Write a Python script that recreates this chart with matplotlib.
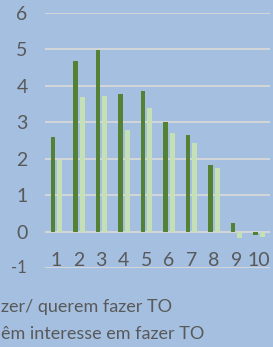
import matplotlib
matplotlib.use("Agg")
import matplotlib.pyplot as plt
import numpy as np

categories = ["1", "2", "3", "4", "5", "6", "7", "8", "9", "10"]
series_dark = [2.60, 4.68, 4.98, 3.77, 3.86, 3.00, 2.64, 1.84, 0.24, -0.10]
series_light = [1.96, 3.69, 3.73, 2.79, 3.39, 2.70, 2.43, 1.75, -0.18, -0.15]
legend_labels = ["zer/ querem fazer TO", "êm interesse em fazer TO"]
y_ticks = [0, 1, 2, 3, 4, 5, 6]

BG = "#a4bfe0"
DARK = "#548235"
LIGHT = "#c5e0b4"
GRID = "#d9d9d9"
TXT = "#595959"
FONT = ["Lato", "DejaVu Sans"]

W, H = 273, 347
fig = plt.figure(figsize=(W / 100, H / 100), dpi=100, facecolor=BG)
ax = fig.add_axes([45 / W, (H - 268) / H, 225 / W, 255 / H])
ax.set_facecolor(BG)

x = np.arange(len(categories))
bw = 0.22
ax.bar(x - 0.145, series_dark, width=bw, color=DARK, zorder=3)
ax.bar(x + 0.155, series_light, width=bw, color=LIGHT, zorder=3)

ax.set_xlim(-0.5, len(categories) - 0.5)
ax.set_ylim(-1, 6)
for v in [-1] + y_ticks:
    ax.axhline(v, color=GRID, lw=1.3, zorder=1)

for s in ax.spines.values():
    s.set_visible(False)
ax.set_xticks([])
ax.set_yticks(y_ticks)
ax.set_yticklabels([str(v) for v in y_ticks], fontsize=14, color=TXT, family=FONT)
ax.tick_params(axis="y", length=0, pad=12.5)
ax.text(-0.5 - 18 / 22.5, -1, "-1", fontsize=12, color=TXT,
        family=FONT, ha="right", va="center")

for xi, lab in zip(x, categories):
    ax.text(xi, -0.95, lab, fontsize=14, color=TXT, family=FONT,
            ha="center", va="baseline", zorder=4)

fig.text(1 / W, 1 - 307 / H, legend_labels[0], fontsize=13, color=TXT,
         family=FONT, ha="left", va="center")
fig.text(1 / W, 1 - 334 / H, legend_labels[1], fontsize=13, color=TXT,
         family=FONT, ha="left", va="center")

fig.savefig("out.png", dpi=100, facecolor=BG)
